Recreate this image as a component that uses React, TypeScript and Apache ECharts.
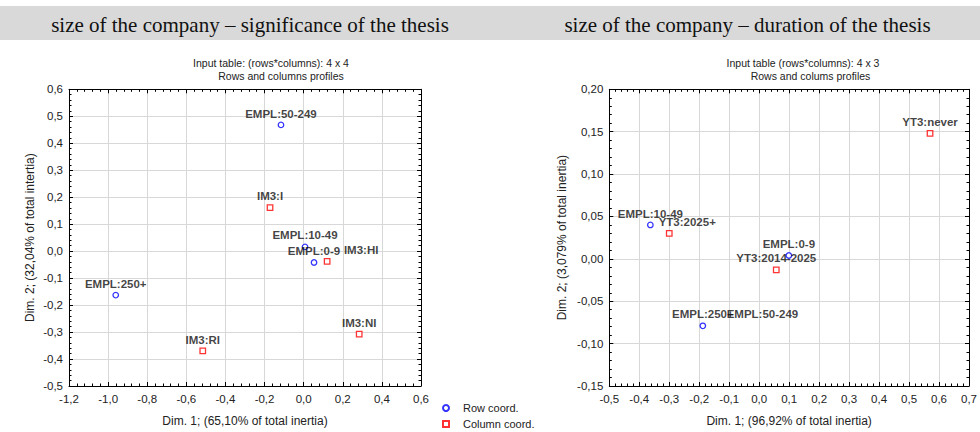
import React, { useEffect, useRef } from "react";
import * as echarts from "echarts";

// ---------- data: left panel (size of the company – significance of the thesis)
const leftRowNames = ["EMPL:0-9", "EMPL:10-49", "EMPL:50-249", "EMPL:250+"];
const leftRowX = [0.053, 0.007, -0.116, -0.961];
const leftRowY = [-0.042, 0.016, 0.468, -0.163];
const leftColNames = ["IM3:HI", "IM3:I", "IM3:NI", "IM3:RI"];
const leftColX = [0.12, -0.172, 0.284, -0.516];
const leftColY = [-0.038, 0.161, -0.308, -0.37];

// ---------- data: right panel (size of the company – duration of the thesis)
const rightRowNames = ["EMPL:0-9", "EMPL:10-49", "EMPL:50-249", "EMPL:250+"];
const rightRowX = [0.099, -0.363, 0.011, -0.188];
const rightRowY = [0.004, 0.04, -0.079, -0.079];
const rightColNames = ["YT3:2014-2025", "YT3:2025+", "YT3:never"];
const rightColX = [0.057, -0.3, 0.57];
const rightColY = [-0.013, 0.03, 0.148];

// ---------- axis ranges
const leftXRange = [-1.2, 0.6, 0.2];
const leftYRange = [-0.5, 0.6, 0.1];
const rightXRange = [-0.5, 0.7, 0.1];
const rightYRange = [-0.15, 0.2, 0.05];

// ---------- texts
const headers = [
  "size of the company – significance of the thesis",
  "size of the company – duration of the thesis",
];
const subtitles1 = ["Input table: (rows*columns): 4 x 4", "Input table (rows*columns): 4 x 3"];
const subtitles2 = ["Rows and columns profiles", "Rows and colums profiles"];
const xNames = ["Dim. 1; (65,10% of total inertia)", "Dim. 1; (96,92% of total inertia)"];
const yNames = ["Dim. 2; (32,04% of total intertia)", "Dim. 2; (3,079% of total inertia)"];
const legendNames = ["Row coord.", "Column coord."];

const SANS = 'Arial, "Liberation Sans", sans-serif';
const SERIF = '"Times New Roman", "Liberation Serif", serif';

const labelOffsets: Record<string, number[]> = {
  "L:IM3:HI": [34, 0],
  "R:YT3:2025+": [18, 0],
};
const hiddenMarkers: Record<string, boolean> = { "R:EMPL:50-249": true };

function fmt(dec: number) {
  return (v: number) => {
    const x = Math.abs(v) < 1e-9 ? 0 : v;
    return x.toFixed(dec).replace(".", ",");
  };
}

function buildData(side: string, names: string[], xs: number[], ys: number[]) {
  return names.map((n, i) => {
    const key = side + ":" + n;
    const item: any = { name: n, value: [xs[i], ys[i]] };
    if (labelOffsets[key]) item.label = { offset: labelOffsets[key] };
    if (hiddenMarkers[key]) item.itemStyle = { borderColor: "transparent", color: "transparent" };
    return item;
  });
}

function mainX(gridIndex: number, r: number[], dec: number, name: string, nameGap: number) {
  return {
    type: "value",
    gridIndex,
    min: r[0],
    max: r[1],
    interval: r[2],
    position: "bottom",
    name,
    nameLocation: "middle",
    nameGap,
    nameTextStyle: { fontFamily: SANS, fontSize: 12, color: "#222" },
    axisLine: { show: true, onZero: false, lineStyle: { color: "#000", width: 1 } },
    axisTick: { show: true, inside: true, length: 4, lineStyle: { color: "#000" } },
    minorTick: { show: true, splitNumber: 5, length: 2.5, lineStyle: { color: "#000" } },
    axisLabel: { formatter: fmt(dec), fontFamily: SANS, fontSize: 11.5, color: "#222", margin: 7 },
    splitLine: { show: true, lineStyle: { color: "#d8d8d8", width: 1 } },
  };
}
function mainY(gridIndex: number, r: number[], dec: number, name: string, nameGap: number) {
  return {
    type: "value",
    gridIndex,
    min: r[0],
    max: r[1],
    interval: r[2],
    position: "left",
    name,
    nameLocation: "middle",
    nameGap,
    nameTextStyle: { fontFamily: SANS, fontSize: 12, color: "#222" },
    axisLine: { show: true, onZero: false, lineStyle: { color: "#000", width: 1 } },
    axisTick: { show: true, inside: true, length: 4, lineStyle: { color: "#000" } },
    minorTick: { show: true, splitNumber: 5, length: 2.5, lineStyle: { color: "#000" } },
    axisLabel: { formatter: fmt(dec), fontFamily: SANS, fontSize: 11.5, color: "#222", margin: 6 },
    splitLine: { show: true, lineStyle: { color: "#d8d8d8", width: 1 } },
  };
}
function frameAxis(kind: "x" | "y", gridIndex: number, r: number[]) {
  return {
    type: "value",
    gridIndex,
    min: r[0],
    max: r[1],
    interval: r[2],
    position: kind === "x" ? "top" : "right",
    axisLine: { show: true, onZero: false, lineStyle: { color: "#000", width: 1 } },
    axisTick: { show: true, inside: true, length: 4, lineStyle: { color: "#000" } },
    minorTick: { show: true, splitNumber: 5, length: 2.5, lineStyle: { color: "#000" } },
    axisLabel: { show: false },
    splitLine: { show: false },
  };
}

const labelStyle = {
  show: true,
  position: "top",
  distance: 2,
  formatter: "{b}",
  fontFamily: SANS,
  fontWeight: "bold",
  fontSize: 11.5,
  color: "#111",
};

export default function App() {
  const ref = useRef<HTMLDivElement>(null);
  useEffect(() => {
    if (!ref.current) return;
    const chart = echarts.init(ref.current, null, { renderer: "svg" });
    const rowStyle = { color: "#fff", borderColor: "#0000ff", borderWidth: 1.3 };
    const colStyle = { color: "#fff", borderColor: "#ff0000", borderWidth: 1.3 };
    chart.setOption({
      animation: false,
      backgroundColor: "#fff",
      grid: [
        { left: 69, top: 89.3, width: 352, height: 299 },
        { left: 609.3, top: 89.3, width: 365.7, height: 299 },
      ],
      xAxis: [
        mainX(0, leftXRange, 1, xNames[0], 29),
        frameAxis("x", 0, leftXRange),
        mainX(1, rightXRange, 1, xNames[1], 29),
        frameAxis("x", 1, rightXRange),
      ],
      yAxis: [
        mainY(0, leftYRange, 1, yNames[0], 33),
        frameAxis("y", 0, leftYRange),
        mainY(1, rightYRange, 2, yNames[1], 41),
        frameAxis("y", 1, rightYRange),
      ],
      legend: {
        orient: "vertical",
        left: 442,
        top: 402.5,
        padding: 0,
        itemWidth: 6,
        itemHeight: 6,
        itemGap: 5,
        textStyle: { fontFamily: SANS, fontSize: 11, color: "#222", padding: [0, 0, 0, 9] },
        data: [
          { name: legendNames[0], icon: "circle" },
          { name: legendNames[1], icon: "rect" },
        ],
      },
      graphic: [
        { type: "rect", shape: { x: 0, y: 6, width: 980, height: 34 }, style: { fill: "#d9d9d9" }, silent: true },
        { type: "text", x: 250, y: 24.5, style: { text: headers[0], font: `21px ${SERIF}`, fill: "#111", align: "center", verticalAlign: "middle" } },
        { type: "text", x: 747.5, y: 24.5, style: { text: headers[1], font: `21px ${SERIF}`, fill: "#111", align: "center", verticalAlign: "middle" } },
        { type: "text", x: 271, y: 62.5, style: { text: subtitles1[0], font: `10.5px ${SANS}`, fill: "#222", align: "center", verticalAlign: "middle" } },
        { type: "text", x: 281, y: 75.7, style: { text: subtitles2[0], font: `10.5px ${SANS}`, fill: "#222", align: "center", verticalAlign: "middle" } },
        { type: "text", x: 803, y: 62.5, style: { text: subtitles1[1], font: `10.5px ${SANS}`, fill: "#222", align: "center", verticalAlign: "middle" } },
        { type: "text", x: 810.5, y: 75.7, style: { text: subtitles2[1], font: `10.5px ${SANS}`, fill: "#222", align: "center", verticalAlign: "middle" } },
      ],
      series: [
        {
          type: "scatter", name: legendNames[0], xAxisIndex: 0, yAxisIndex: 0,
          symbol: "circle", symbolSize: 5.5, itemStyle: rowStyle, label: labelStyle,
          data: buildData("L", leftRowNames, leftRowX, leftRowY),
        },
        {
          type: "scatter", name: legendNames[1], xAxisIndex: 0, yAxisIndex: 0,
          symbol: "rect", symbolSize: 5.5, itemStyle: colStyle, label: labelStyle,
          data: buildData("L", leftColNames, leftColX, leftColY),
        },
        {
          type: "scatter", name: legendNames[0], xAxisIndex: 2, yAxisIndex: 2,
          symbol: "circle", symbolSize: 5.5, itemStyle: rowStyle, label: labelStyle,
          data: buildData("R", rightRowNames, rightRowX, rightRowY),
        },
        {
          type: "scatter", name: legendNames[1], xAxisIndex: 2, yAxisIndex: 2,
          symbol: "rect", symbolSize: 5.5, itemStyle: colStyle, label: labelStyle,
          data: buildData("R", rightColNames, rightColX, rightColY),
        },
      ],
    });
    return () => chart.dispose();
  }, []);
  return <div ref={ref} style={{ position: "absolute", left: 0, top: 0, width: 980, height: 432 }} />;
}
